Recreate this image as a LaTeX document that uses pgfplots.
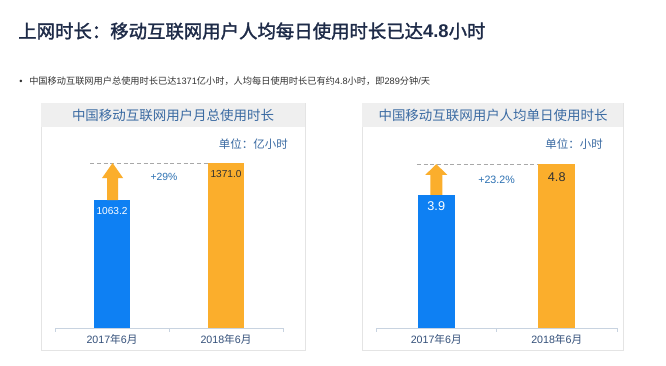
\documentclass[border=0pt]{standalone}
\usepackage{pgfplots}
\pgfplotsset{compat=1.18}
\usepackage{fontspec}
\setmainfont{Liberation Sans}
\newfontfamily\cjk{Noto Sans CJK SC}
\newfontfamily\cjkb[FakeBold=1.6]{Noto Sans CJK SC}
\definecolor{titlecol}{HTML}{1E2B48}
\definecolor{bodycol}{HTML}{333333}
\definecolor{barblue}{HTML}{0E80F3}
\definecolor{barorange}{HTML}{FBAE2C}
\definecolor{headbg}{HTML}{EFEFEF}
\definecolor{panelborder}{HTML}{E4E4E4}
\definecolor{headtext}{HTML}{3A6AA2}
\definecolor{tickcol}{HTML}{34507A}
\definecolor{axiscol}{HTML}{C8D3E0}
\definecolor{pctcol}{HTML}{2B70B2}
\definecolor{dashcol}{HTML}{A8A8A8}
\begin{document}
\begin{tikzpicture}[x=0.75pt,y=0.75pt]
\useasboundingbox (0,0) rectangle (666,365);
\fill[white] (0,0) rectangle (666,365);
% title
\node[anchor=base west, inner sep=0, text=titlecol, font=\fontsize{13.8}{16}\selectfont] at (18,327)
  {\cjkb 上网时长：移动互联网用户人均每日使用时长已达{\rmfamily\bfseries 4.8}小时};
% bullet line
\node[anchor=base west, inner sep=0, text=bodycol, font=\fontsize{6.9}{8}\selectfont] at (19,281) {\textbullet};
\node[anchor=base west, inner sep=0, text=bodycol, font=\fontsize{6.9}{8}\selectfont] at (29,281)
  {\cjk 中国移动互联网用户总使用时长已达{\rmfamily 1371}亿小时，人均每日使用时长已有约{\rmfamily 4.8}小时，即{\rmfamily 289}分钟{\rmfamily /}天};
% panels
\draw[panelborder, fill=white] (41,15) rectangle (305,262);
\fill[headbg] (41,238) rectangle (305,262);
\node[text=headtext, font=\fontsize{10.1}{12}\selectfont] at (173,250) {\cjk 中国移动互联网用户月总使用时长};
\node[anchor=east, text=headtext, font=\fontsize{8.6}{10}\selectfont, inner sep=0] at (288,221) {\cjk 单位：亿小时};
\draw[panelborder, fill=white] (362,15) rectangle (623,262);
\fill[headbg] (362,238) rectangle (623,262);
\node[text=headtext, font=\fontsize{10.1}{12}\selectfont] at (493,250) {\cjk 中国移动互联网用户人均单日使用时长};
\node[anchor=east, text=headtext, font=\fontsize{8.6}{10}\selectfont, inner sep=0] at (603,221) {\cjk 单位：小时};

% left axis
\begin{axis}[
  at={(41.25pt,27.75pt)}, anchor=south west,
  scale only axis, width=171pt, height=135.4pt,
  xmin=-0.5, xmax=1.5, ymin=0, ymax=1500,
  hide y axis,
  axis x line*=bottom,
  x axis line style={draw=axiscol, line width=0.7pt, -},
  xtick={0,1},
  xticklabels={{2017{\cjk 年}6{\cjk 月}},{2018{\cjk 年}6{\cjk 月}}},
  major tick length=0pt,
  xticklabel style={text=tickcol, font=\fontsize{8}{9}\selectfont, yshift=-1pt},
  clip=false,
  /pgf/number format/fixed, /pgf/number format/fixed zerofill,
  /pgf/number format/precision=1, /pgf/number format/1000 sep={},
  /pgf/number format/assume math mode=true,
]
\addplot[ybar, bar width=27pt, bar shift=0pt, fill=barblue, draw=none,
  nodes near coords,
  every node near coord/.append style={text=white, anchor=center, yshift=-8.25pt, font=\fontsize{7.6}{9}\selectfont}]
  coordinates {(0,1063.2)};
\addplot[ybar, bar width=27pt, bar shift=0pt, fill=barorange, draw=none,
  nodes near coords,
  every node near coord/.append style={text=bodycol, anchor=center, yshift=-8.25pt, font=\fontsize{7.6}{9}\selectfont}]
  coordinates {(1,1371.0)};
\draw[dashcol, dash pattern=on 3pt off 2pt, line width=0.6pt] (axis cs:-0.19,1371) -- (axis cs:0.84,1371);
\fill[barorange] ([xshift=-4.1pt]axis cs:0.005,1063.2) -- ([xshift=-4.1pt]axis cs:0.005,1246)
  -- ([xshift=-7.9pt]axis cs:0.005,1246) -- (axis cs:0.005,1371) -- ([xshift=7.9pt]axis cs:0.005,1246)
  -- ([xshift=4.1pt]axis cs:0.005,1246) -- ([xshift=4.1pt]axis cs:0.005,1063.2) -- cycle;
\node[text=pctcol, font=\fontsize{7.8}{9}\selectfont] at (axis cs:0.456,1255) {+29\%};
\draw[axiscol, line width=0.7pt] (axis cs:-0.5,0) -- ([yshift=-3pt]axis cs:-0.5,0);
\draw[axiscol, line width=0.7pt] (axis cs:0.5,0) -- ([yshift=-3pt]axis cs:0.5,0);
\draw[axiscol, line width=0.7pt] (axis cs:1.5,0) -- ([yshift=-3pt]axis cs:1.5,0);
\end{axis}

% right axis
\begin{axis}[
  at={(282pt,27.75pt)}, anchor=south west,
  scale only axis, width=180.75pt, height=134.5pt,
  xmin=-0.5, xmax=1.5, ymin=0, ymax=5.25,
  hide y axis,
  axis x line*=bottom,
  x axis line style={draw=axiscol, line width=0.7pt, -},
  xtick={0,1},
  xticklabels={{2017{\cjk 年}6{\cjk 月}},{2018{\cjk 年}6{\cjk 月}}},
  major tick length=0pt,
  xticklabel style={text=tickcol, font=\fontsize{8}{9}\selectfont, yshift=-1pt},
  clip=false,
  /pgf/number format/fixed, /pgf/number format/fixed zerofill,
  /pgf/number format/precision=1, /pgf/number format/1000 sep={},
  /pgf/number format/assume math mode=true,
]
\addplot[ybar, bar width=28pt, bar shift=0pt, fill=barblue, draw=none,
  nodes near coords,
  every node near coord/.append style={text=white, anchor=center, yshift=-8.5pt, font=\fontsize{9.5}{11}\selectfont}]
  coordinates {(0,3.9)};
\addplot[ybar, bar width=28pt, bar shift=0pt, fill=barorange, draw=none,
  nodes near coords,
  every node near coord/.append style={text=bodycol, anchor=center, yshift=-9.5pt, font=\fontsize{9.5}{11}\selectfont}]
  coordinates {(1,4.8)};
\draw[dashcol, dash pattern=on 3pt off 2pt, line width=0.6pt] (axis cs:-0.16,4.8) -- (axis cs:0.84,4.8);
\fill[barorange] ([xshift=-4.5pt]axis cs:0,3.9) -- ([xshift=-4.5pt]axis cs:0,4.48)
  -- ([xshift=-8.25pt]axis cs:0,4.48) -- (axis cs:0,4.8) -- ([xshift=8.25pt]axis cs:0,4.48)
  -- ([xshift=4.5pt]axis cs:0,4.48) -- ([xshift=4.5pt]axis cs:0,3.9) -- cycle;
\node[text=pctcol, font=\fontsize{8}{9}\selectfont] at (axis cs:0.5,4.33) {+23.2\%};
\draw[axiscol, line width=0.7pt] (axis cs:-0.5,0) -- ([yshift=-3pt]axis cs:-0.5,0);
\draw[axiscol, line width=0.7pt] (axis cs:0.5,0) -- ([yshift=-3pt]axis cs:0.5,0);
\draw[axiscol, line width=0.7pt] (axis cs:1.5,0) -- ([yshift=-3pt]axis cs:1.5,0);
\end{axis}
\end{tikzpicture}
\end{document}
